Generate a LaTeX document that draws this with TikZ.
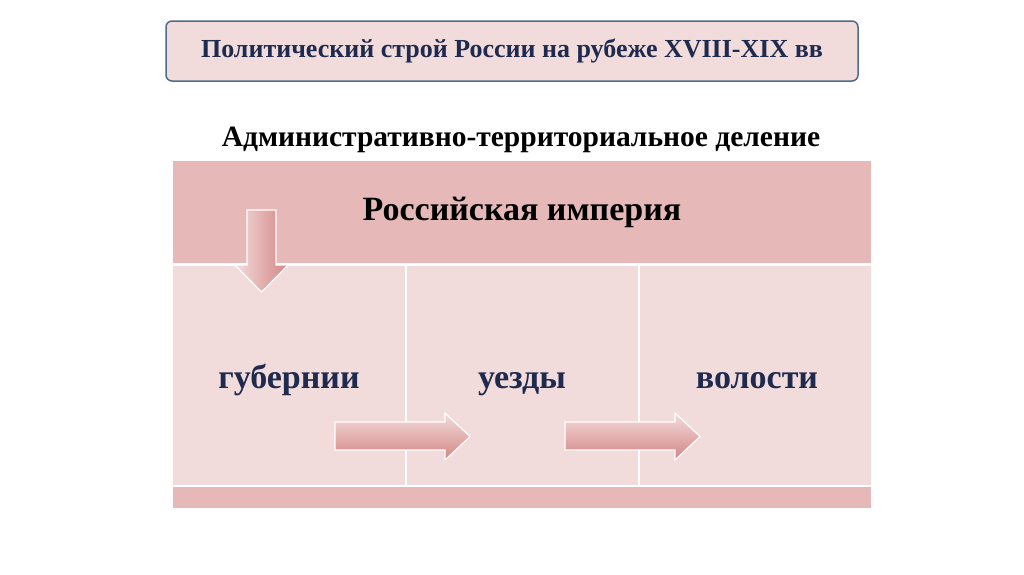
\documentclass[tikz,border=0pt]{standalone}
\usepackage{fontspec}
\setmainfont{Liberation Serif}
\definecolor{lpink}{HTML}{F2DCDB}
\definecolor{dpink}{HTML}{E6B9B8}
\definecolor{navy}{HTML}{1F2A4F}
\definecolor{frame}{HTML}{4F6B8A}
\tikzset{
 colbox/.style={fill=lpink,draw=white,line width=2pt},
 hdrbox/.style={fill=dpink,draw=white,line width=2pt},
 coltext/.style={anchor=base,font=\bfseries\fontsize{34}{36}\selectfont,text=navy},
 arrsh/.style={draw=white,line width=1.2pt,line join=miter},
}
\begin{document}
\begin{tikzpicture}[x=1pt,y=-1pt]
\useasboundingbox (0,0) rectangle (1024,574);
\fill[white] (0,0) rectangle (1024,574);
\node[draw=frame,line width=1.5pt,rounded corners=6pt,fill=lpink,minimum width=692pt,minimum height=60pt,font=\bfseries\fontsize{26}{28}\selectfont,text=navy] (title) at (512,51) {Политический строй России на рубеже  XVIII-XIX вв};
\node[font=\bfseries\fontsize{29.5}{31}\selectfont] (sub) at (521,140) {Административно-территориальное деление};
\path[hdrbox] (172,160) rectangle (872,264);
\node[font=\bfseries\fontsize{34}{36}\selectfont,text=black] (hdr) at (522,212) {Российская империя};
\path[colbox] (172,265) rectangle (406,486);
\path[colbox] (406,265) rectangle (639,486);
\path[colbox] (639,265) rectangle (872,486);
\path[hdrbox] (172,486) rectangle (872,509);
\node[coltext] (g) at (289,388) {губернии};
\node[coltext] (u) at (522,388) {уезды};
\node[coltext] (v) at (757,388) {волости};
\shade[arrsh,left color=lpink,right color=dpink!80!red!90!black] (247,210) -- (276,210) -- (276,265) -- (288,265) -- (261.5,292) -- (235,265) -- (247,265) -- cycle;
\foreach \x in {335,565}{
\shade[arrsh,top color=lpink,bottom color=dpink!80!red!90!black] (\x,422) -- (\x+110,422) -- (\x+110,413) -- (\x+135,436.5) -- (\x+110,460) -- (\x+110,450) -- (\x,450) -- cycle;}
\end{tikzpicture}
\end{document}
